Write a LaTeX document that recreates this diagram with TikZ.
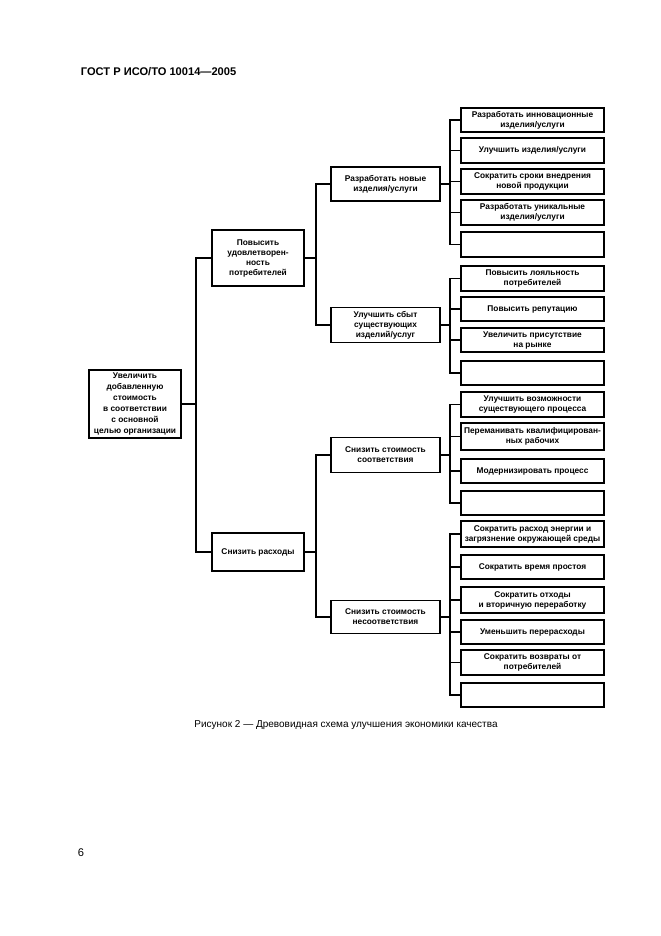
\documentclass[tikz,border=0pt]{standalone}
\usepackage{fontspec}
\setmainfont{Liberation Sans}
\begin{document}
\begin{tikzpicture}[x=0.9pt,y=-0.9pt,
  bx/.style 2 args={draw, line width=1.5pt, inner sep=0pt, align=center,
    minimum width=#1*0.9pt, minimum height=#2*0.9pt,
    font=\fontsize{7.5}{9}\selectfont\bfseries},
  leaf/.style={bx={143}{#1}},
  mid/.style={bx={109}{#1}},
  top/.style={bx={92}{#1}},
  conn/.style={line width=1.2pt, line join=miter}]
\useasboundingbox (0,0) rectangle (661,936);
\node[anchor=west, font=\fontsize{10}{12}\selectfont\bfseries] (hdr) at (77,72) {ГОСТ Р ИСО/ТО 10014—2005};
\node[font=\fontsize{10}{12}\selectfont] (pg) at (81,853) {6};
\node[font=\fontsize{9}{11}\selectfont] (cap) at (346,725) {Рисунок 2 — Древовидная схема улучшения экономики качества};

\node[top={68}, font=\fontsize{7.5}{10}\selectfont\bfseries] (root) at (135,404) {Увеличить\\добавленную\\стоимость\\в соответствии\\с основной\\целью организации};
\node[top={56}] (a) at (258,258) {Повысить\\удовлетворен-\\ность\\потребителей};
\node[top={38}] (b) at (258,552) {Снизить расходы};

\node[mid={34}] (aa) at (385.5,184) {Разработать новые\\изделия/услуги};
\node[mid={35}] (ab) at (385.5,325) {Улучшить сбыт\\существующих\\изделий/услуг};
\node[mid={35}] (ba) at (385.5,455) {Снизить стоимость\\соответствия};
\node[mid={33}] (bb) at (385.5,617) {Снизить стоимость\\несоответствия};

\node[leaf={24}] (l1) at (532.5,120) {Разработать инновационные\\изделия/услуги};
\node[leaf={25}] (l2) at (532.5,150.5) {Улучшить изделия/услуги};
\node[leaf={25}] (l3) at (532.5,181.5) {Сократить сроки внедрения\\новой продукции};
\node[leaf={25}] (l4) at (532.5,212.5) {Разработать уникальные\\изделия/услуги};
\node[leaf={25}] (l5) at (532.5,244.5) {};
\node[leaf={25}] (l6) at (532.5,278.5) {Повысить лояльность\\потребителей};
\node[leaf={24}] (l7) at (532.5,309) {Повысить репутацию};
\node[leaf={24}] (l8) at (532.5,340) {Увеличить присутствие\\на рынке};
\node[leaf={24}] (l9) at (532.5,373) {};
\node[leaf={25}] (l10) at (532.5,404.5) {Улучшить возможности\\существующего процесса};
\node[leaf={27}] (l11) at (532.5,436.5) {Переманивать квалифицирован-\\ных рабочих};
\node[leaf={24}] (l12) at (532.5,471) {Модернизировать процесс};
\node[leaf={24}] (l13) at (532.5,503) {};
\node[leaf={26}] (l14) at (532.5,534) {Сократить расход энергии и\\загрязнение окружающей среды};
\node[leaf={24}] (l15) at (532.5,567) {Сократить время простоя};
\node[leaf={26}] (l16) at (532.5,600) {Сократить отходы\\и вторичную переработку};
\node[leaf={24}] (l17) at (532.5,632) {Уменьшить перерасходы};
\node[leaf={25}] (l18) at (532.5,662.5) {Сократить возвраты от\\потребителей};
\node[leaf={24}] (l19) at (532.5,695) {};

\coordinate (j0) at (196,404);
\coordinate (ja) at (316,258);
\coordinate (jb) at (316,552);
\coordinate (jaa) at (450,184);
\coordinate (jab) at (450,325);
\coordinate (jba) at (450,455);
\coordinate (jbb) at (450,617);

\draw[conn] (root.east) -- (j0);
\draw[conn] (a.west) -| (j0) |- (b.west);

\draw[conn] (a.east) -- (ja);
\draw[conn] (aa.west) -| (ja) |- (ab.west);
\draw[conn] (b.east) -- (jb);
\draw[conn] (ba.west) -| (jb) |- (bb.west);

\draw[conn] (aa.east) -- (jaa);
\draw[conn] (l1.west) -| (jaa) |- (l5.west);
\draw[conn] (l2.west) -| (jaa);
\draw[conn] (l3.west) -| (jaa);
\draw[conn] (l4.west) -| (jaa);

\draw[conn] (ab.east) -- (jab);
\draw[conn] (l6.west) -| (jab) |- (l9.west);
\draw[conn] (l7.west) -| (jab);
\draw[conn] (l8.west) -| (jab);

\draw[conn] (ba.east) -- (jba);
\draw[conn] (l10.west) -| (jba) |- (l13.west);
\draw[conn] (l11.west) -| (jba);
\draw[conn] (l12.west) -| (jba);

\draw[conn] (bb.east) -- (jbb);
\draw[conn] (l14.west) -| (jbb) |- (l19.west);
\draw[conn] (l15.west) -| (jbb);
\draw[conn] (l16.west) -| (jbb);
\draw[conn] (l17.west) -| (jbb);
\draw[conn] (l18.west) -| (jbb);
\end{tikzpicture}
\end{document}
